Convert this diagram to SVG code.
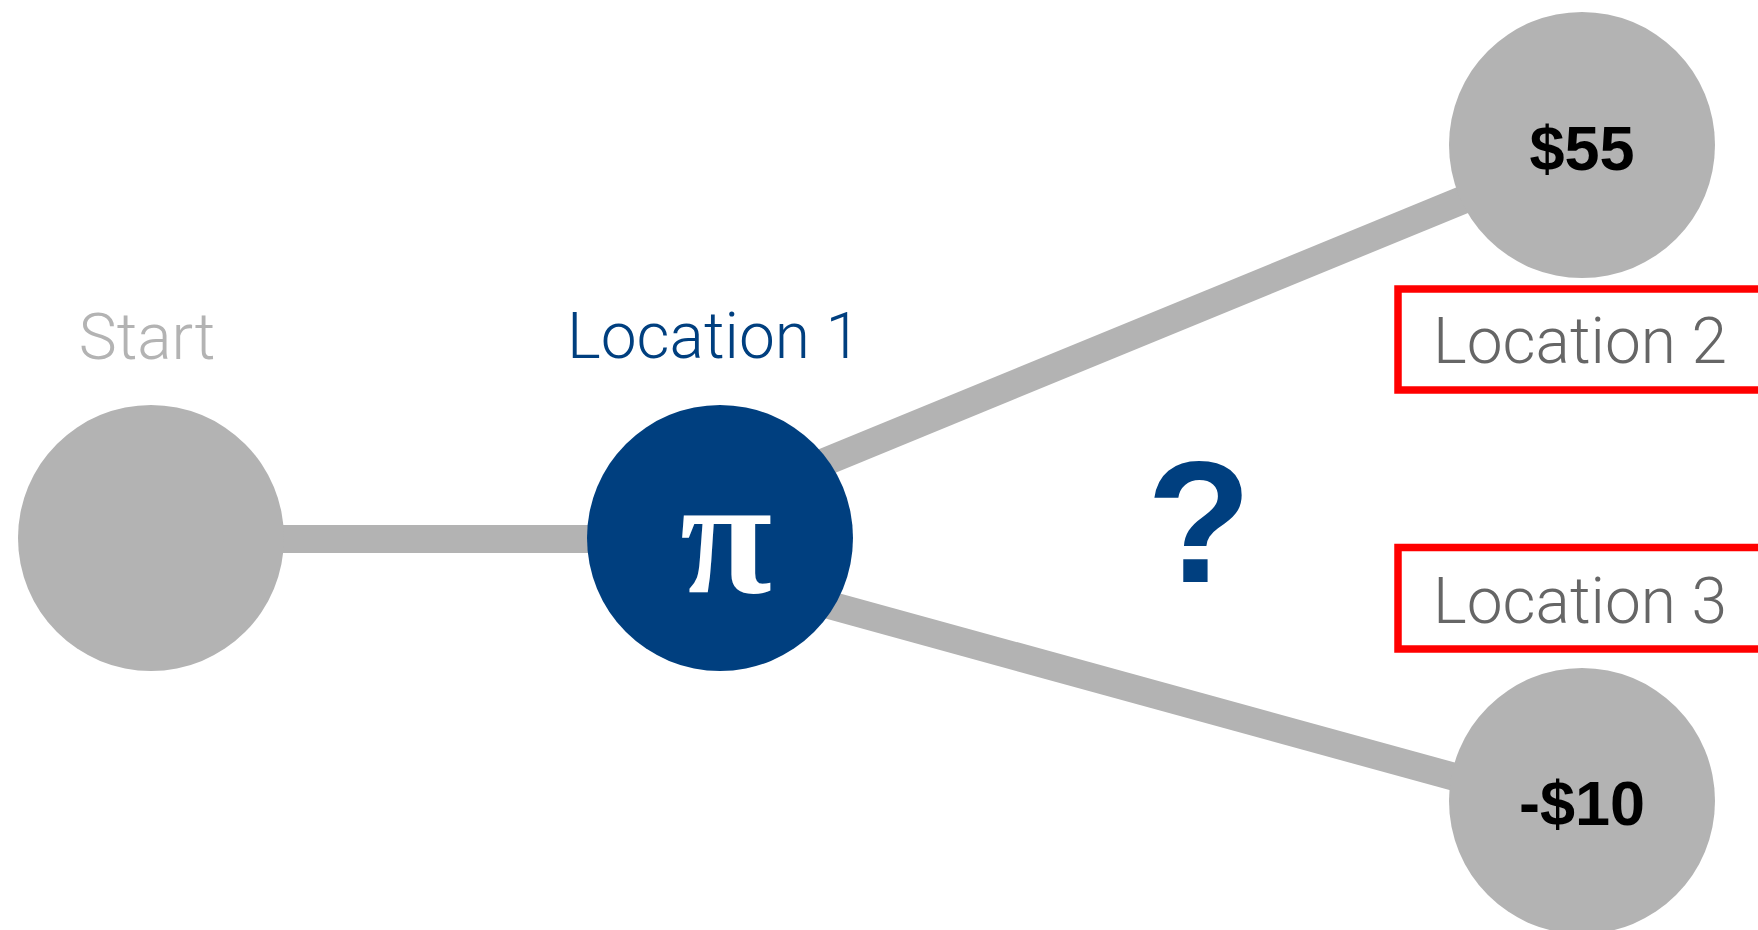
<svg xmlns="http://www.w3.org/2000/svg" width="1758" height="930" viewBox="0 0 1758 930">
<style>
.edge{stroke:#b3b3b3;stroke-width:28;fill:none}
.gnode{fill:#b3b3b3}
.bnode{fill:#003f7f}
.lbl{font-family:Roboto,"Liberation Sans",Arial,sans-serif;font-weight:300;font-size:64px}
.val{font-family:"Liberation Sans",Arial,sans-serif;font-weight:bold;font-size:63px;fill:#000;text-anchor:middle}
.box{fill:none;stroke:#ff0000;stroke-width:7.5}
</style>
<rect width="1758" height="930" fill="#ffffff"/>
<g id="connectors">
<line class="edge" x1="151" y1="539" x2="720" y2="539"/>
<line class="edge" x1="720" y1="505" x2="1582" y2="151"/>
<line class="edge" x1="720" y1="575" x2="1582" y2="812"/>
</g>
<g id="start">
<circle class="gnode" cx="151" cy="538" r="133"/>
<text class="lbl" x="147" y="359" fill="#b3b3b3" text-anchor="middle">Start</text>
</g>
<g id="location1">
<circle class="bnode" cx="720" cy="538" r="133"/>
<text class="lbl" x="714" y="358" fill="#003f7f" text-anchor="middle">Location 1</text>
<text x="726" y="592" fill="#ffffff" font-family="'Liberation Serif','DejaVu Serif',serif" font-weight="bold" font-size="168" text-anchor="middle">π</text>
</g>
<g id="location2">
<circle class="gnode" cx="1582" cy="145" r="133"/>
<text class="val" x="1582" y="170">$55</text>
<rect class="box" x="1398" y="289" width="364" height="101"/>
<text class="lbl" x="1580" y="363" fill="#666666" text-anchor="middle">Location 2</text>
</g>
<g id="location3">
<circle class="gnode" cx="1582" cy="801" r="133"/>
<text class="val" x="1582" y="825">-$10</text>
<rect class="box" x="1398" y="547.5" width="364" height="101.5"/>
<text class="lbl" x="1580" y="622.7" fill="#666666" text-anchor="middle">Location 3</text>
</g>
<g id="question">
<text x="1199" y="582" fill="#003f7f" font-family="'Liberation Sans',Arial,sans-serif" font-weight="bold" font-size="172" text-anchor="middle">?</text>
</g>
</svg>
